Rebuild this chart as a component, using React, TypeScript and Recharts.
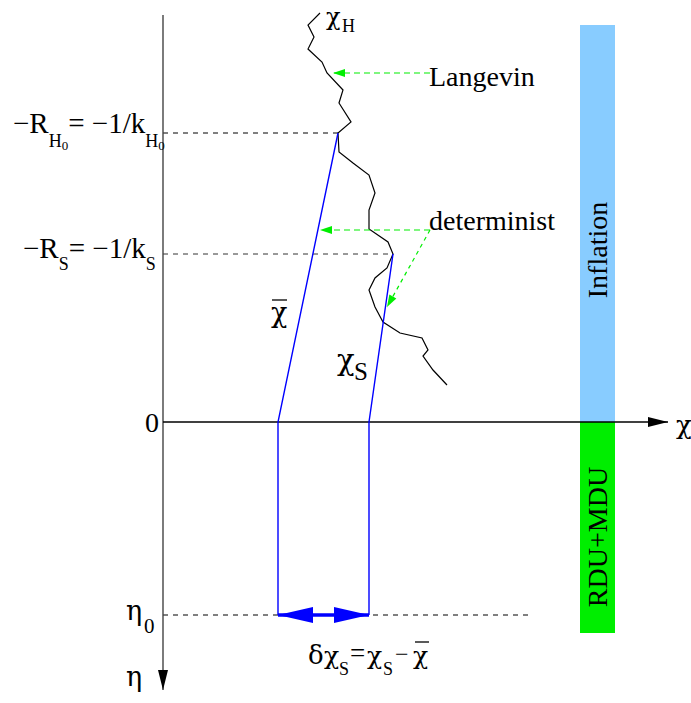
import { ComposedChart, Line, Scatter, XAxis, YAxis, ReferenceArea } from 'recharts';

// Coordinates: chi grows to the right, eta grows downward, origin where the two axes cross.
const chiDomain = [-163, 528];
const etaDomain = [-422, 281];

const chiAxis = [{ x: 0, y: 0 }, { x: 505, y: 0 }];
const etaAxis = [{ x: 0, y: -407 }, { x: 0, y: 268 }];

// stochastic (Langevin) trajectory chi_H
const langevinPath = [
  { x: 157, y: -409 }, { x: 145, y: -397 }, { x: 151, y: -385 }, { x: 145, y: -373 },
  { x: 159, y: -360 }, { x: 164, y: -349 }, { x: 180, y: -332 }, { x: 176, y: -319 },
  { x: 188, y: -300 }, { x: 175, y: -289 }, { x: 176, y: -270 }, { x: 190, y: -259 },
  { x: 206, y: -247 }, { x: 212, y: -229 }, { x: 206, y: -212 }, { x: 206, y: -193 },
  { x: 225, y: -180 }, { x: 230, y: -168 }, { x: 224, y: -154 }, { x: 212, y: -144 },
  { x: 206, y: -132 }, { x: 212, y: -115 }, { x: 220, y: -100 }, { x: 237, y: -89 },
  { x: 259, y: -84 }, { x: 265, y: -72 }, { x: 260, y: -66 }, { x: 270, y: -52 },
  { x: 284, y: -37 },
];

// deterministic trajectories
const chiBarPath = [{ x: 175, y: -289 }, { x: 115, y: 0 }, { x: 115, y: 193 }];
const chiSPath = [{ x: 230, y: -168 }, { x: 206, y: 0 }, { x: 206, y: 193 }];

// dashed levels
const hubbleLevel = [{ x: 0, y: -289 }, { x: 175, y: -289 }];
const crossingLevel = [{ x: 0, y: -168 }, { x: 230, y: -168 }];
const etaZeroLevel = [{ x: 0, y: 193 }, { x: 367, y: 193 }];

// pointers
const langevinPointer = [{ x: 267, y: -349 }, { x: 170, y: -349 }];
const determinPointerA = [{ x: 267, y: -192 }, { x: 157, y: -192 }];
const determinPointerB = [{ x: 267, y: -192 }, { x: 224, y: -115 }];
const spreadArrow = [{ x: 115, y: 193 }, { x: 206, y: 193 }];

// era bands
const bandChi = [417, 452];
const inflationEta = [-397, 0];
const radiationEta = [0, 211];

const labels = [
  { id: 'chiH', x: 163, y: -397 },
  { id: 'hubble', x: -150, y: -289 },
  { id: 'crossing', x: -140, y: -164 },
  { id: 'zero', x: -4, y: 10 },
  { id: 'eta0', x: -37, y: 198 },
  { id: 'eta', x: -37, y: 264 },
  { id: 'chi', x: 513, y: 12 },
  { id: 'chiBar', x: 108, y: -100 },
  { id: 'chiS', x: 174, y: -52 },
  { id: 'spread', x: 145, y: 242 },
  { id: 'langevin', x: 266, y: -336 },
  { id: 'determinist', x: 266, y: -192 },
  { id: 'inflation', x: 434, y: -172 },
  { id: 'rdu', x: 434, y: 115 },
];

type Pt = { x: number; y: number };

const tipOf = (path: Pt[], kind: string) => {
  const a = path[path.length - 2];
  const b = path[path.length - 1];
  return { x: b.x, y: b.y, angle: (Math.atan2(b.y - a.y, b.x - a.x) * 180) / Math.PI, kind };
};

const heads = [
  tipOf(chiAxis, 'axis'),
  tipOf(etaAxis, 'axis'),
  tipOf(langevinPointer, 'green'),
  tipOf(determinPointerA, 'green'),
  tipOf(determinPointerB, 'green'),
  tipOf(spreadArrow, 'blue'),
  tipOf([...spreadArrow].reverse(), 'blue'),
];

const headSize: Record<string, { len: number; half: number; fill: string }> = {
  axis: { len: 20, half: 5, fill: '#000' },
  green: { len: 12, half: 4, fill: '#00ee00' },
  blue: { len: 35, half: 8, fill: '#0000ff' },
};

const serif = "'Liberation Serif', 'Times New Roman', serif";
const greek = "'DejaVu Serif', serif";

function ArrowHead(props: any) {
  const { cx, cy, payload } = props;
  const s = headSize[payload.kind];
  return (
    <polygon
      points={`0,0 ${-s.len},${-s.half} ${-s.len},${s.half}`}
      fill={s.fill}
      transform={`translate(${cx} ${cy}) rotate(${payload.angle})`}
    />
  );
}

function LabelMark(props: any) {
  const { cx, cy, payload } = props;
  const t = { fontFamily: serif, fill: '#000' };
  const g = { fontFamily: greek, fill: '#000' };
  switch (payload.id) {
    case 'chiH':
      return (
        <g>
          <text x={cx} y={cy} fontSize={24} {...g}>χ</text>
          <text x={cx + 16} y={cy + 7} fontSize={18} {...t}>H</text>
        </g>
      );
    case 'hubble':
      return (
        <text x={cx} y={cy} fontSize={29} {...t}>
          −R<tspan fontSize={18} dy={14}>H</tspan>
          <tspan fontSize={13} dy={3}>0</tspan>
          <tspan fontSize={29} dy={-17}>= −1/k</tspan>
          <tspan fontSize={18} dy={14}>H</tspan>
          <tspan fontSize={13} dy={3}>0</tspan>
        </text>
      );
    case 'crossing':
      return (
        <text x={cx} y={cy} fontSize={29} {...t}>
          −R<tspan fontSize={18} dy={12}>S</tspan>
          <tspan fontSize={29} dy={-12}>= −1/k</tspan>
          <tspan fontSize={18} dy={12}>S</tspan>
        </text>
      );
    case 'zero':
      return (
        <text x={cx} y={cy} fontSize={28} textAnchor="end" {...t}>
          0
        </text>
      );
    case 'eta0':
      return (
        <g>
          <text x={cx} y={cy} fontSize={27} {...g}>η</text>
          <text x={cx + 18} y={cy + 13} fontSize={21} {...t}>0</text>
        </g>
      );
    case 'eta':
      return (
        <text x={cx} y={cy} fontSize={27} {...g}>
          η
        </text>
      );
    case 'chi':
      return (
        <text x={cx} y={cy} fontSize={26} {...g}>
          χ
        </text>
      );
    case 'chiBar':
      return (
        <g>
          <text x={cx} y={cy} fontSize={27} {...g}>χ</text>
          <line x1={cx + 1} x2={cx + 16} y1={cy - 22} y2={cy - 22} stroke="#000" strokeWidth={1.3} />
        </g>
      );
    case 'chiS':
      return (
        <g>
          <text x={cx} y={cy} fontSize={29} {...g}>χ</text>
          <text x={cx + 17} y={cy + 10} fontSize={25} {...t}>S</text>
        </g>
      );
    case 'spread':
      return (
        <g>
          <text x={cx} y={cy} fontSize={26} {...g}>δ</text>
          <text x={cx + 16} y={cy} fontSize={25} {...g}>χ</text>
          <text x={cx + 31} y={cy + 11} fontSize={18} {...t}>S</text>
          <text x={cx + 42} y={cy - 2} fontSize={27} {...t}>=</text>
          <text x={cx + 59} y={cy} fontSize={25} {...g}>χ</text>
          <text x={cx + 75} y={cy + 11} fontSize={18} {...t}>S</text>
          <text x={cx + 87} y={cy - 2} fontSize={24} {...t}>−</text>
          <text x={cx + 105} y={cy} fontSize={25} {...g}>χ</text>
          <line x1={cx + 107} x2={cx + 121} y1={cy - 22} y2={cy - 22} stroke="#000" strokeWidth={1.3} />
        </g>
      );
    case 'langevin':
      return (
        <text x={cx} y={cy} fontSize={28} {...t}>
          Langevin
        </text>
      );
    case 'determinist':
      return (
        <text x={cx} y={cy} fontSize={28} {...t}>
          determinist
        </text>
      );
    case 'inflation':
      return (
        <text x={cx} y={cy} fontSize={28} textAnchor="middle" dominantBaseline="central"
          transform={`rotate(-90 ${cx} ${cy})`} {...t}>
          Inflation
        </text>
      );
    case 'rdu':
      return (
        <text x={cx} y={cy} fontSize={28} textAnchor="middle" dominantBaseline="central"
          transform={`rotate(-90 ${cx} ${cy})`} {...t}>
          RDU+MDU
        </text>
      );
    default:
      return null;
  }
}

const seg = (data: Pt[], stroke: string, width: number, dash?: string) => (
  <Line
    data={data}
    dataKey="y"
    type="linear"
    stroke={stroke}
    strokeWidth={width}
    strokeDasharray={dash}
    dot={false}
    activeDot={false}
    isAnimationActive={false}
  />
);

export default function App() {
  return (
    <div style={{ position: 'absolute', left: 0, top: 0, width: 691, height: 703, background: '#fff' }}>
      <ComposedChart width={691} height={703} margin={{ top: 0, right: 0, bottom: 0, left: 0 }}>
        <XAxis type="number" dataKey="x" domain={chiDomain} allowDataOverflow hide />
        <YAxis type="number" dataKey="y" domain={etaDomain} allowDataOverflow reversed hide />
        <ReferenceArea x1={bandChi[0]} x2={bandChi[1]} y1={inflationEta[0]} y2={inflationEta[1]}
          fill="#88ccff" fillOpacity={1} stroke="none" />
        <ReferenceArea x1={bandChi[0]} x2={bandChi[1]} y1={radiationEta[0]} y2={radiationEta[1]}
          fill="#00ee00" fillOpacity={1} stroke="none" />
        {seg(hubbleLevel, '#000', 1, '5 5')}
        {seg(crossingLevel, '#333', 1, '5 5')}
        {seg(etaZeroLevel, '#000', 1, '5 5')}
        {seg(etaAxis, '#444', 1.4)}
        {seg(chiAxis, '#000', 1.4)}
        {seg(langevinPath, '#000', 1.2)}
        {seg(chiBarPath, '#0000ff', 1.4)}
        {seg(chiSPath, '#0000ff', 1.4)}
        {seg(spreadArrow, '#0000ff', 3.5)}
        {seg(langevinPointer, '#00ee00', 1.2, '6 4')}
        {seg(determinPointerA, '#00ee00', 1.2, '6 4')}
        {seg(determinPointerB, '#00ee00', 1.2, '4 4')}
        <Scatter data={heads} shape={ArrowHead} isAnimationActive={false} />
        <Scatter data={labels} shape={LabelMark} isAnimationActive={false} />
      </ComposedChart>
    </div>
  );
}
